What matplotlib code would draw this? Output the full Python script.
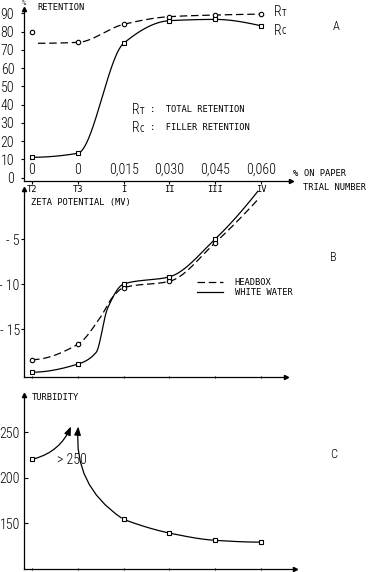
import numpy as np
import matplotlib
matplotlib.use("Agg")
import matplotlib.pyplot as plt
from matplotlib import font_manager

# ---------------- data ----------------
trials = ["T2", "T3", "I", "II", "III", "IV"]
pct_on_paper = ["0", "0", "0,015", "0,030", "0,045", "0,060"]
xpos = [0, 1, 2, 3, 4, 5]

# Panel A: retention (%)
rt_total = [79.6, 74.1, 84.0, 88.2, 89.1, 89.6]
rc_filler = [11.1, 13.3, 73.6, 86.0, 86.7, 83.2]
rt_curve_x = [0.13, 1, 2, 3, 4, 5]
rt_curve_y = [73.6, 74.1, 84.0, 88.2, 89.1, 89.6]
ret_ticks = [0, 10, 20, 30, 40, 50, 60, 70, 80, 90]

# Panel B: zeta potential (mV)
zeta_headbox = [-18.4, -16.7, -10.4, -9.7, -5.4]
zeta_white = [-19.8, -18.9, -10.0, -9.2, -5.0]
hb_curve_x = [0, 1, 1.48, 1.77, 2, 3, 4, 4.97]
hb_curve_y = [-18.4, -16.7, -13.8, -11.4, -10.4, -9.7, -5.4, -0.4]
ww_curve_x = [0, 1, 1.4, 1.65, 2, 3, 4, 4.93]
ww_curve_y = [-19.8, -18.9, -17.6, -12.7, -10.0, -9.2, -5.0, 0.3]
zeta_ticks = [-5, -10, -15]
zeta_ticklabels = ["- 5", "- 10", "- 15"]

# Panel C: turbidity
turb_x = [0, 2, 3, 4, 5]
turb = [220, 154, 139, 131, 129]
turb_arrow_up = [(0, 220), (0.85, 256)]
turb_arrow_down = [(2, 154), (1.01, 256)]
turb_ticks = [150, 200, 250]

# ---------------- helpers ----------------
W, H = 370, 572
names = {f.name for f in font_manager.fontManager.ttflist}
NARROW = "DejaVu Sans"
for cand in ["Roboto Condensed", "Barlow Condensed", "Archivo Narrow", "PT Sans Narrow",
             "IBM Plex Sans Condensed", "Encode Sans Condensed", "Ubuntu Condensed",
             "Liberation Sans Narrow", "Oswald"]:
    if cand in names:
        NARROW = cand
        break
MONO = "DejaVu Sans Mono"
MS = 6.3
NW = "light"


def pchip(x, y, xs):
    x = np.asarray(x, float); y = np.asarray(y, float)
    h = np.diff(x); d = np.diff(y) / h
    n = len(x); m = np.zeros(n)
    for k in range(1, n - 1):
        if d[k - 1] * d[k] <= 0:
            m[k] = 0
        else:
            w1 = 2 * h[k] + h[k - 1]; w2 = h[k] + 2 * h[k - 1]
            m[k] = (w1 + w2) / (w1 / d[k - 1] + w2 / d[k])
    def endm(h0, h1, d0, d1):
        v = ((2 * h0 + h1) * d0 - h0 * d1) / (h0 + h1)
        if np.sign(v) != np.sign(d0):
            v = 0
        elif np.sign(d0) != np.sign(d1) and abs(v) > abs(3 * d0):
            v = 3 * d0
        return v
    m[0] = endm(h[0], h[1], d[0], d[1])
    m[-1] = endm(h[-1], h[-2], d[-1], d[-2])
    xs = np.asarray(xs, float)
    idx = np.clip(np.searchsorted(x, xs) - 1, 0, n - 2)
    t = (xs - x[idx]) / h[idx]
    h00 = 2 * t**3 - 3 * t**2 + 1; h10 = t**3 - 2 * t**2 + t
    h01 = -2 * t**3 + 3 * t**2; h11 = t**3 - t**2
    return h00 * y[idx] + h10 * h[idx] * m[idx] + h01 * y[idx + 1] + h11 * h[idx] * m[idx + 1]


def smooth(ax, xs, ys, **kw):
    xx = np.linspace(xs[0], xs[-1], 400)
    ax.plot(xx, pchip(xs, ys, xx), color="black", lw=0.9, **kw)


def make_axes(left, right, top, bottom, xlim, ylim):
    ax = fig.add_axes([left / W, 1 - bottom / H, (right - left) / W, (bottom - top) / H])
    ax.set_xlim(*xlim); ax.set_ylim(*ylim)
    ax.patch.set_alpha(0)
    for s in ("top", "right"):
        ax.spines[s].set_visible(False)
    for s in ("left", "bottom"):
        ax.spines[s].set_linewidth(0.9)
    ax.plot(1, 0, ">", color="black", ms=3, transform=ax.transAxes, clip_on=False)
    ax.plot(0, 1, "^", color="black", ms=3, transform=ax.transAxes, clip_on=False)
    ax.set_xticks(xpos)
    return ax


def ftext(x, y, s, **kw):
    fig.text(x / W, 1 - y / H, s, **kw)


def rsub(x, y, sub, size=10):
    ftext(x, y, "R", family=NARROW, weight=NW, fontsize=size, va="center", ha="left")
    ftext(x + 8, y + 1, sub, family=MONO, fontsize=5.5, va="center", ha="left")


fig = plt.figure(figsize=(W / 100, H / 100), dpi=100)
fig.patch.set_facecolor("white")

# ---------------- Panel A ----------------
axA = make_axes(24, 291, 9, 181, (-0.175, 5.655), (-1.9, 92.4))
smooth(axA, rt_curve_x, rt_curve_y, linestyle=(0, (6, 3)))
smooth(axA, xpos, rc_filler)
axA.plot(xpos, rt_total, "o", mfc="white", mec="black", ms=3.2, mew=0.8, clip_on=False)
axA.plot(xpos, rc_filler, "s", mfc="white", mec="black", ms=3.0, mew=0.8, clip_on=False)
axA.set_yticks(ret_ticks)
axA.set_yticklabels([str(v) for v in ret_ticks], family=NARROW, weight=NW, fontsize=10)
axA.set_xticklabels(trials, family=MONO, fontsize=MS)
axA.tick_params(axis="y", length=2, width=0.8, pad=5)
axA.tick_params(axis="x", length=2, width=0.8, pad=1)
for xp, lab in zip(xpos, pct_on_paper):
    axA.text(xp, 0.065, lab, transform=axA.get_xaxis_transform(), ha="center", va="center",
             family=NARROW, weight=NW, fontsize=10)
ftext(24, 3, "%", family=MONO, fontsize=5, ha="center", va="center")
ftext(37, 8, "RETENTION", family=MONO, fontsize=MS, va="center")
ftext(293, 174, "%", family=MONO, fontsize=MS, va="center")
ftext(304, 174, "ON PAPER", family=MONO, fontsize=MS, va="center")
ftext(303, 188, "TRIAL NUMBER", family=MONO, fontsize=MS, va="center")
rsub(274, 12, "T")
rsub(274, 31, "C")
ftext(333, 27, "A", family=NARROW, weight=NW, fontsize=9, va="center")
rsub(132, 110, "T")
ftext(150, 110, ":  TOTAL RETENTION", family=MONO, fontsize=MS, va="center")
rsub(132, 128, "C")
ftext(150, 128, ":  FILLER RETENTION", family=MONO, fontsize=MS, va="center")

# ---------------- Panel B ----------------
axB = make_axes(24, 286, 189, 377, (-0.175, 5.546), (-20.33, 0.56))
smooth(axB, hb_curve_x, hb_curve_y, linestyle=(0, (6, 3)), label="HEADBOX")
smooth(axB, ww_curve_x, ww_curve_y, label="WHITE WATER")
axB.plot(xpos[:5], zeta_headbox, "o", mfc="white", mec="black", ms=3.2, mew=0.8)
axB.plot(xpos[:5], zeta_white, "s", mfc="white", mec="black", ms=3.0, mew=0.8, clip_on=False)
axB.set_yticks(zeta_ticks)
axB.set_yticklabels(zeta_ticklabels, family=NARROW, weight=NW, fontsize=10)
axB.set_xticklabels([])
axB.tick_params(axis="y", length=2, width=0.8, pad=1)
axB.tick_params(axis="x", length=2, width=0.8, direction="inout")
leg = axB.legend(loc="upper left", bbox_to_anchor=(0.66, 0.525), frameon=False,
                 prop={"family": MONO, "size": MS}, handlelength=3.0,
                 handletextpad=1.3, labelspacing=0.1, borderaxespad=0, borderpad=0)
ftext(31, 202, "ZETA POTENTIAL (MV)", family=MONO, fontsize=MS, va="center")
ftext(330, 257, "B", family=NARROW, weight=NW, fontsize=9, va="center")

# ---------------- Panel C ----------------
axC = make_axes(24, 295, 395, 569, (-0.175, 5.742), (99.5, 290.7))
smooth(axC, turb_x[1:], turb[1:])
axC.plot(turb_x, turb, "s", mfc="white", mec="black", ms=3.0, mew=0.8)
axC.annotate("", xy=turb_arrow_up[1], xytext=turb_arrow_up[0],
             arrowprops=dict(arrowstyle="-|>,head_length=0.5,head_width=0.2", color="black",
                             lw=0.9, shrinkA=2, shrinkB=0, connectionstyle="arc3,rad=0.25"))
axC.annotate("", xy=turb_arrow_down[1], xytext=turb_arrow_down[0],
             arrowprops=dict(arrowstyle="-|>,head_length=0.5,head_width=0.2", color="black",
                             lw=0.9, shrinkA=2, shrinkB=0, connectionstyle="arc3,rad=-0.3"))
axC.set_yticks(turb_ticks)
axC.set_yticklabels([str(v) for v in turb_ticks], family=NARROW, weight=NW, fontsize=10)
axC.set_xticklabels([])
axC.tick_params(axis="y", length=3, width=0.8, pad=3, direction="in")
axC.tick_params(axis="x", length=2, width=0.8, direction="inout")
ftext(57, 460, "> 250", family=NARROW, weight=NW, fontsize=10, va="center")
ftext(32, 398, "TURBIDITY", family=MONO, fontsize=MS, va="center")
ftext(330, 455, "C", family=NARROW, weight=NW, fontsize=9, va="center")

fig.savefig("out.png", dpi=100)
